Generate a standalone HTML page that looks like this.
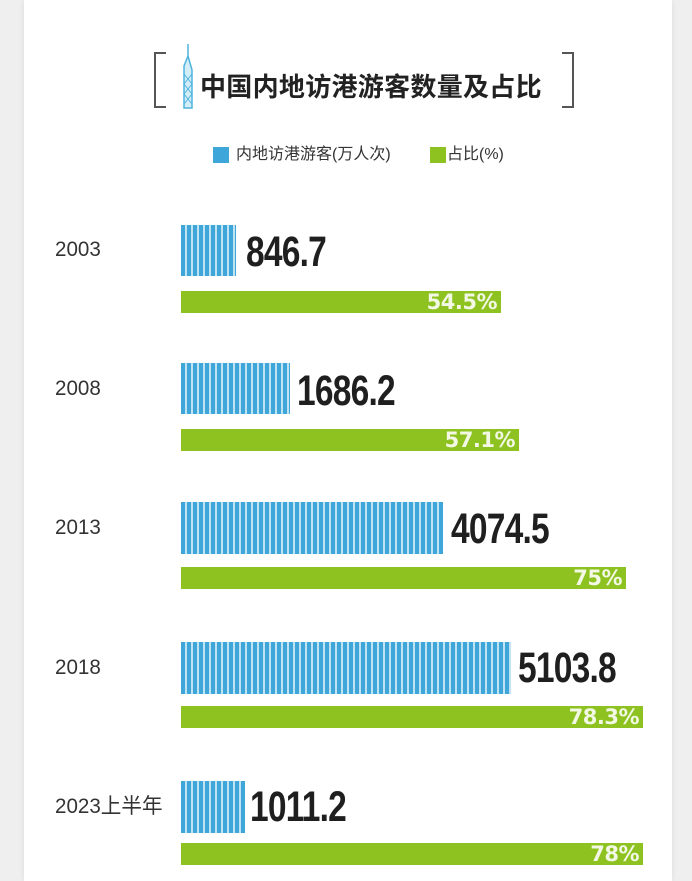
<!DOCTYPE html>
<html><head><meta charset="utf-8"><style>
html,body{margin:0;padding:0;width:692px;height:881px;overflow:hidden;background:#efefef}
.card{position:absolute;left:24px;top:0;width:648px;height:881px;background:#fff;box-shadow:0 0 6px rgba(0,0,0,.08)}
.a{position:absolute}
.cn{font-family:"Liberation Sans","Noto Sans CJK SC",sans-serif}
.year{position:absolute;left:55px;font-size:21px;color:#333;font-family:"Liberation Sans","Noto Sans CJK SC",sans-serif;line-height:24px;transform:scaleX(.98);transform-origin:left}
.blue{position:absolute;left:181px;background:repeating-linear-gradient(90deg,#3ea6d8 0 4px,#bfe3f3 4px 6px)}
.green{position:absolute;left:181px;height:22px;background:#8dc220;color:#f2f8e4;font:bold 21px "DejaVu Sans",sans-serif;text-align:right;line-height:22px;box-sizing:border-box;padding-right:4px;letter-spacing:-0.5px}
.val{position:absolute;font:bold 43px "Liberation Sans Narrow","Liberation Sans",sans-serif;color:#1f1f1f;line-height:42px;transform:scaleX(.78);transform-origin:left;letter-spacing:-1px}
</style></head><body>
<div class="card"></div>
<div class="a" style="left:154px;top:52px;width:10px;height:52px;border:2px solid #555;border-right:none"></div>
<div class="a" style="left:562px;top:52px;width:10px;height:52px;border:2px solid #555;border-left:none"></div>
<svg class="a" style="left:180px;top:44px" width="16" height="66"><path d="M8 0 L8 12 M4 64 L4 22 L8 12 L12 26 L12 64 Z" stroke="#4fb3dc" stroke-width="1.5" fill="#d4eef8"/><path d="M4 30 L12 40 M12 30 L4 40 M4 40 L12 50 M12 40 L4 50 M4 50 L12 60 M12 50 L4 60" stroke="#4fb3dc" stroke-width="1"/></svg>
<div class="a cn" style="left:200px;top:72px;font-size:26px;font-weight:bold;color:#222;line-height:30px;letter-spacing:0.3px">中国内地访港游客数量及占比</div>
<div class="a" style="left:213px;top:147px;width:16px;height:16px;background:#3ea6d8"></div>
<div class="a cn" style="left:236px;top:144px;font-size:16px;color:#333;line-height:22px">内地访港游客(万人次)</div>
<div class="a" style="left:430px;top:147px;width:16px;height:16px;background:#8dc220"></div>
<div class="a cn" style="left:447px;top:144px;font-size:16px;color:#333;line-height:22px">占比(%)</div>

<div class="year" style="top:238px">2003</div>
<div class="blue" style="top:225px;width:55px;height:51px"></div>
<div class="val" style="left:246px;top:231px">846.7</div>
<div class="green" style="top:291px;width:320px">54.5%</div>

<div class="year" style="top:377px">2008</div>
<div class="blue" style="top:363px;width:109px;height:51px"></div>
<div class="val" style="left:297px;top:370px">1686.2</div>
<div class="green" style="top:429px;width:338px">57.1%</div>

<div class="year" style="top:516px">2013</div>
<div class="blue" style="top:502px;width:262px;height:52px"></div>
<div class="val" style="left:451px;top:508px">4074.5</div>
<div class="green" style="top:567px;width:445px">75%</div>

<div class="year" style="top:656px">2018</div>
<div class="blue" style="top:642px;width:330px;height:52px"></div>
<div class="val" style="left:518px;top:647px">5103.8</div>
<div class="green" style="top:706px;width:462px">78.3%</div>

<div class="year" style="top:795px">2023上半年</div>
<div class="blue" style="top:781px;width:64px;height:52px"></div>
<div class="val" style="left:250px;top:786px">1011.2</div>
<div class="green" style="top:843px;width:462px">78%</div>
</body></html>
